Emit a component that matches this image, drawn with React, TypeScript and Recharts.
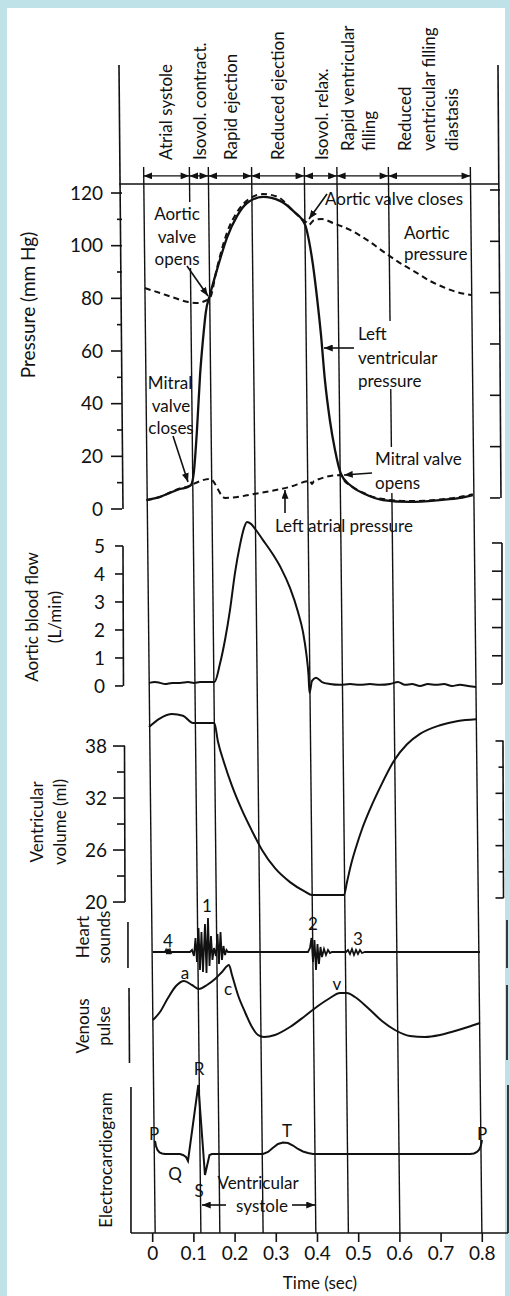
import React from "react";
import { ComposedChart, Line, XAxis, YAxis, ReferenceLine } from "recharts";

type Pt = [number, number];

// ---------------- data ----------------
const timeTicks = [0, 0.1, 0.2, 0.3, 0.4, 0.5, 0.6, 0.7, 0.8];
const pressureTicks = [0, 20, 40, 60, 80, 100, 120];
const pressureMinorTicks = [10, 30, 50, 70, 90, 110];
const flowTicks = [0, 1, 2, 3, 4, 5];
const volumeTicks = [20, 26, 32, 38];
const volumeMinorTicks = [23, 29, 35];

// phase boundaries (s), read at the time axis
const phaseBoundaries = [0.006, 0.117, 0.163, 0.268, 0.396, 0.475, 0.6, 0.799];
// the scanned figure drifts left towards its top by this much time
const SCAN_SKEW = 0.028;

// pressures (mm Hg)
const aorticPressure: Pt[] = [
  [-0.019, 83.9], [0.018, 82.0], [0.054, 80.1], [0.086, 78.6], [0.108, 78.2], [0.127, 79.0],
  [0.139, 80.1], [0.156, 91.5], [0.18, 104.8], [0.205, 112.8], [0.231, 117.4], [0.268, 119.6],
  [0.304, 118.5], [0.338, 113.6], [0.362, 110.1], [0.375, 108.6], [0.379, 107.9], [0.392, 109.8],
  [0.411, 110.1], [0.438, 108.6], [0.479, 106.0], [0.52, 102.2], [0.571, 96.5], [0.612, 92.3],
  [0.642, 89.6], [0.673, 86.6], [0.705, 84.3], [0.738, 82.4], [0.773, 81.3],
];
const lvPressure: Pt[] = [
  [-0.015, 3.4], [0.018, 4.6], [0.042, 6.1], [0.066, 7.6], [0.086, 8.4], [0.093, 9.1],
  [0.1, 14.1], [0.1075, 30.0], [0.115, 50.9], [0.122, 64.2], [0.129, 74.8], [0.139, 81.3],
  [0.156, 90.8], [0.18, 102.9], [0.205, 111.3], [0.229, 116.2], [0.268, 118.5], [0.309, 117.0],
  [0.341, 113.2], [0.37, 107.9], [0.379, 102.2], [0.389, 92.7], [0.399, 80.1], [0.4085, 66.1],
  [0.418, 49.0], [0.43, 33.8], [0.4425, 22.4], [0.457, 13.3], [0.479, 9.1], [0.515, 5.7],
  [0.559, 3.4], [0.6245, 2.7], [0.697, 3.4], [0.746, 4.2], [0.777, 5.3],
];
const laPressure: Pt[] = [
  [-0.015, 3.4], [0.018, 4.6], [0.042, 6.3], [0.066, 7.8], [0.086, 8.6], [0.093, 9.1],
  [0.139, 11.4], [0.1755, 4.2], [0.26, 6.1], [0.333, 8.4], [0.3818, 10.6], [0.3867, 9.5],
  [0.3915, 10.6], [0.457, 12.9], [0.466, 10.6], [0.479, 9.1], [0.497, 7.2], [0.515, 5.9],
  [0.537, 4.5], [0.559, 3.8], [0.59, 3.2], [0.6245, 3.0], [0.66, 3.1], [0.697, 3.6],
  [0.74, 4.4], [0.777, 5.6],
];

// aortic blood flow (L/min)
const aorticFlow: Pt[] = [
  [-0.009, 0.11], [0.006, 0.14], [0.018, 0.11], [0.03, 0.07], [0.047, 0.11], [0.066, 0.11],
  [0.086, 0.14], [0.1, 0.11], [0.115, 0.14], [0.129, 0.14], [0.15, 0.14], [0.1633, 0.79],
  [0.1755, 1.64], [0.1876, 2.71], [0.1998, 4.04], [0.2119, 5.04], [0.2216, 5.64], [0.2289, 5.86],
  [0.2386, 5.79], [0.2507, 5.57], [0.2678, 5.21], [0.2896, 4.75], [0.3114, 4.21], [0.3333, 3.5],
  [0.3527, 2.64], [0.3648, 1.93], [0.3733, 1.11], [0.3782, 0.39], [0.3806, -0.25], [0.3867, 0.18],
  [0.3964, 0.29], [0.411, 0.14], [0.43, 0.07], [0.4546, 0.04], [0.4789, 0.07], [0.5031, 0.04],
  [0.5274, 0.07], [0.5517, 0.04], [0.576, 0.07], [0.5954, 0.14], [0.6124, 0.04], [0.6294, 0.07],
  [0.6488, 0.0], [0.6682, 0.07], [0.6876, 0.04], [0.707, 0.07], [0.7264, 0.0], [0.7459, 0.04],
  [0.7653, 0.0], [0.7847, -0.04],
];

// ventricular volume (ml)
const ventricularVolume: Pt[] = [
  [-0.009, 40.2], [0.018, 41.2], [0.047, 41.7], [0.0735, 41.5], [0.0978, 40.65], [0.1496, 40.65],
  [0.1585, 38.5], [0.1731, 36.1], [0.1925, 33.4], [0.2168, 30.6], [0.2411, 28.2], [0.2654, 26.0],
  [0.2969, 23.9], [0.3333, 22.3], [0.3697, 21.2], [0.3867, 20.8], [0.4643, 20.8], [0.4716, 22.3],
  [0.4813, 24.3], [0.4934, 26.3], [0.508, 28.4], [0.5274, 30.7], [0.5517, 33.2], [0.5857, 36.3],
  [0.6173, 38.2], [0.6488, 39.4], [0.6973, 40.4], [0.741, 40.9], [0.7847, 41.1],
];

// heart sounds (arbitrary amplitude)
const heartSounds: Pt[] = [
  [0, 0], [0.0299, 0], [0.0323, 2], [0.0347, -2], [0.0371, 3], [0.0396, -2], [0.042, 2], [0.0444, -1],
  [0.0468, 0], [0.0905, 0], [0.0954, 2], [0.1002, -4], [0.1039, 14], [0.1075, -10], [0.1112, 24],
  [0.1148, -18], [0.1184, 20], [0.1221, -20], [0.1269, 28], [0.1306, -21], [0.1342, 34], [0.1379, -14],
  [0.1415, 16], [0.1451, -8], [0.1488, 4], [0.1536, -4], [0.1573, 18], [0.1609, -12], [0.1646, 20],
  [0.1682, -8], [0.1718, 6], [0.1755, -3], [0.1791, 2], [0.1828, 0], [0.3769, 0], [0.3818, 4],
  [0.3854, 14], [0.3891, -10], [0.3927, 12], [0.3964, -18], [0.4, 8], [0.4036, -12], [0.4073, 5],
  [0.4109, -5], [0.4158, 3], [0.4206, -3], [0.4255, 2], [0.4303, -1], [0.4352, 0], [0.4692, 0],
  [0.474, 2], [0.4789, -2], [0.4837, 3], [0.4886, -3], [0.4934, 2], [0.4983, -2], [0.5031, 2],
  [0.508, -1], [0.5153, 0], [0.7944, 0],
];

// venous pulse (arbitrary units)
const venousPulse: Pt[] = [
  [0.0007, 20], [0.0177, 28], [0.0371, 42], [0.0566, 54], [0.076, 59], [0.0954, 55], [0.1124, 51],
  [0.1318, 55], [0.1512, 61], [0.1682, 68], [0.1852, 75], [0.1925, 65], [0.207, 45], [0.224, 28],
  [0.241, 13], [0.2556, 5], [0.2701, 3], [0.2968, 5], [0.3333, 13], [0.3697, 24], [0.4012, 34],
  [0.4303, 42], [0.4546, 47], [0.4716, 47], [0.491, 43], [0.5226, 32], [0.5565, 19], [0.5881, 10],
  [0.6245, 4], [0.6609, 3], [0.6973, 5], [0.7337, 9], [0.7653, 13], [0.7944, 17],
];

// electrocardiogram (arbitrary units)
const ecg: Pt[] = [
  [0.0056, 13], [0.008, 8], [0.0116, 4], [0.0165, 1.5], [0.0226, 0.5], [0.0299, 0], [0.0663, 0],
  [0.0735, -1], [0.0808, -3], [0.0857, -7], [0.1107, 69], [0.1269, -21], [0.1379, -1], [0.1439, 0],
  [0.2678, 0], [0.28, 2], [0.2913, 6], [0.3041, 10], [0.3163, 11.5], [0.3284, 11], [0.3406, 8.5],
  [0.3527, 5], [0.3648, 2.5], [0.3769, 1], [0.3891, 0], [0.7701, 0], [0.7798, 0.5], [0.7871, 2],
  [0.7919, 4], [0.7956, 7], [0.798, 11], [0.7993, 14],
];

// ---------------- styling / layout ----------------
const INK = "#111";
const FONT = "Lato, 'Open Sans', 'DejaVu Sans', sans-serif";
const tickFont = { fontFamily: FONT, fontSize: 19, fill: INK };
const tickLineStyle = { stroke: INK, strokeWidth: 1.6 };
const noLabel = () => "";

const X_DOMAIN: [number, number] = [-0.0672, 0.843];
const P_L: [number, number] = [-274.94, 168.61];
const P_R: [number, number] = [-286.4, 168.7];
const F_L: [number, number] = [-19.54, 22.18];
const F_R: [number, number] = [-19.47, 21.95];
const V_L: [number, number] = [-18.19, 116.58];
const V_R: [number, number] = [-18.41, 115.5];
const HS: [number, number] = [-281, 887];
const VP: [number, number] = [-193, 975];
const EC: [number, number] = [-79, 1089];

const rows = (p: Pt[]) => p.map(([t, v]) => ({ t, v }));

const seg = (yAxisId: string, x1: number, y1: number, x2: number, y2: number, key: string, w = 1.6, extra: any = {}) => (
  <ReferenceLine
    key={key}
    xAxisId="t"
    yAxisId={yAxisId}
    segment={[{ x: x1, y: y1 }, { x: x2, y: y2 }]}
    ifOverflow="visible"
    stroke={INK}
    strokeWidth={w}
    {...extra}
  />
);

const PHASE_TOP = 129.9; // pressure units at top of phase lines
const ARROW_Y = 126.5;

const layer: React.CSSProperties = { position: "absolute", left: 0, top: 0 };

// one axis pair (left with labels, right inward ticks) drawn in its own layer
function AxisLayer({
  domL, domR, ticks, leftAt, rightAt, sizeL, sizeR, marginL = 8, labels = true,
}: {
  domL: [number, number]; domR: [number, number]; ticks: number[]; leftAt: number; rightAt: number;
  sizeL: number; sizeR: number; marginL?: number; labels?: boolean;
}) {
  const common = { type: "number" as const, allowDataOverflow: true, interval: 0 as const, axisLine: false, tickLine: tickLineStyle, ticks };
  const anchor = rows(ticks.map((v) => [0, v] as Pt));
  return (
    <div style={layer}>
      <ComposedChart width={510} height={1296} margin={{ top: 65, right: 0, bottom: 63, left: 0 }}>
        <XAxis xAxisId="t" type="number" dataKey="t" domain={X_DOMAIN} allowDataOverflow hide />
        <YAxis yAxisId="L" {...common} orientation="left" width={leftAt} domain={domL} tickSize={sizeL} tickMargin={marginL}
          tick={tickFont} tickFormatter={labels ? (v: number) => String(v) : noLabel} />
        <YAxis yAxisId="R" {...common} orientation="right" width={510 - rightAt} domain={domR} tickSize={-sizeR} tickFormatter={noLabel} />
        <Line xAxisId="t" yAxisId="L" data={anchor} dataKey="v" stroke="none" dot={false} isAnimationActive={false} />
        <Line xAxisId="t" yAxisId="R" data={anchor} dataKey="v" stroke="none" dot={false} isAnimationActive={false} />
      </ComposedChart>
    </div>
  );
}

function MainChart() {
  const hid = { type: "number" as const, hide: true, allowDataOverflow: true };
  return (
    <div style={layer}>
      <ComposedChart width={510} height={1296} margin={{ top: 65, right: 10, bottom: 0, left: 125 }}>
        <XAxis
          xAxisId="t"
          type="number"
          dataKey="t"
          domain={X_DOMAIN}
          allowDataOverflow
          ticks={timeTicks}
          interval={0}
          height={63}
          axisLine={false}
          tickLine={tickLineStyle}
          tickSize={9}
          tickMargin={5}
          tick={tickFont}
          tickFormatter={(v: number) => String(v)}
        />
        <YAxis yAxisId="presL" {...hid} domain={P_L} />
        <YAxis yAxisId="presR" {...hid} domain={P_R} />
        <YAxis yAxisId="flowL" {...hid} domain={F_L} />
        <YAxis yAxisId="flowR" {...hid} domain={F_R} />
        <YAxis yAxisId="volL" {...hid} domain={V_L} />
        <YAxis yAxisId="volR" {...hid} domain={V_R} />
        <YAxis yAxisId="hs" {...hid} domain={HS} />
        <YAxis yAxisId="vp" {...hid} domain={VP} />
        <YAxis yAxisId="ecg" {...hid} domain={EC} />

        {/* phase boundary lines */}
        {phaseBoundaries.map((b, i) => seg("presL", b - SCAN_SKEW, PHASE_TOP, b, P_L[0], `ph${i}`, 1.4))}
        {/* phase arrows */}
        {phaseBoundaries.slice(0, -1).map((b, i) =>
          seg("presL", b - SCAN_SKEW, ARROW_Y, phaseBoundaries[i + 1] - SCAN_SKEW, ARROW_Y, `pa${i}`, 1.4, {
            markerStart: "url(#ah)",
            markerEnd: "url(#ah)",
          })
        )}

        {/* frame */}
        {seg("presL", -0.0818, P_L[1], -0.0721, 0, "fpL")}
        {seg("presL", -0.0818, 123.4, 0.8381, 123.4, "ftop")}
        {seg("presR", 0.8381, P_R[1], 0.8454, 0, "fpR")}
        {seg("flowL", -0.0721, 5, -0.0709, 0, "ffL")}
        {seg("flowR", 0.8478, 5, 0.8478, 0, "ffR")}
        {seg("volL", -0.0684, 38, -0.0672, 20, "fvL")}
        {seg("volR", 0.8502, 38, 0.8515, 20, "fvR")}
        {seg("hs", -0.06, 30, -0.06, -16, "fhL")}
        {seg("hs", 0.86, 32, 0.86, -16, "fhR")}
        {seg("vp", -0.0575, 52, -0.0563, -23, "fvpL")}
        {seg("vp", 0.86, 55, 0.86, -20, "fvpR")}
        {seg("ecg", -0.0527, 67, -0.0527, -79, "feL")}
        {seg("ecg", 0.8624, 69, 0.8624, -79, "feR")}
        {seg("ecg", -0.0527, -79, 0.8624, -79, "fx")}

        {/* series */}
        <Line xAxisId="t" yAxisId="presL" data={rows(aorticPressure)} dataKey="v" type="monotone" dot={false} stroke={INK} strokeWidth={2} strokeDasharray="6 4" isAnimationActive={false} />
        <Line xAxisId="t" yAxisId="presL" data={rows(laPressure)} dataKey="v" type="monotone" dot={false} stroke={INK} strokeWidth={2} strokeDasharray="6 4" isAnimationActive={false} />
        <Line xAxisId="t" yAxisId="presL" data={rows(lvPressure)} dataKey="v" type="monotone" dot={false} stroke={INK} strokeWidth={2.3} isAnimationActive={false} />
        <Line xAxisId="t" yAxisId="flowL" data={rows(aorticFlow)} dataKey="v" type="monotone" dot={false} stroke={INK} strokeWidth={2} isAnimationActive={false} />
        <Line xAxisId="t" yAxisId="volL" data={rows(ventricularVolume)} dataKey="v" type="monotone" dot={false} stroke={INK} strokeWidth={2} isAnimationActive={false} />
        <Line xAxisId="t" yAxisId="hs" data={rows(heartSounds)} dataKey="v" type="linear" dot={false} stroke={INK} strokeWidth={1.8} isAnimationActive={false} />
        <Line xAxisId="t" yAxisId="vp" data={rows(venousPulse)} dataKey="v" type="monotone" dot={false} stroke={INK} strokeWidth={2} isAnimationActive={false} />
        <Line xAxisId="t" yAxisId="ecg" data={rows(ecg)} dataKey="v" type="linear" dot={false} stroke={INK} strokeWidth={2} isAnimationActive={false} />
      </ComposedChart>
    </div>
  );
}

// ---------------- annotations ----------------
const txt = { fontFamily: FONT, fontSize: 17, fill: INK } as const;

function VT({ x, y, s, anchor = "start", size }: { x: number; y: number; s: string; anchor?: "start" | "middle" | "end"; size?: number }) {
  return (
    <text x={x} y={y} transform={`rotate(-90 ${x} ${y})`} textAnchor={anchor} dominantBaseline="central" {...txt} fontSize={size ?? 17}>
      {s}
    </text>
  );
}
function HT({ x, y, s, anchor = "start", size }: { x: number; y: number; s: string; anchor?: "start" | "middle" | "end"; size?: number }) {
  return (
    <text x={x} y={y} textAnchor={anchor} dominantBaseline="central" {...txt} fontSize={size ?? 17}>
      {s}
    </text>
  );
}
function Arrow({ x1, y1, x2, y2 }: { x1: number; y1: number; x2: number; y2: number }) {
  return <line x1={x1} y1={y1} x2={x2} y2={y2} stroke={INK} strokeWidth={1.6} markerEnd="url(#ah)" />;
}

function Overlay() {
  return (
    <svg width={510} height={1296} style={{ ...layer, pointerEvents: "none" }}>
      <defs>
        <marker id="ah" viewBox="0 0 10 8" refX="10" refY="4" markerWidth="9" markerHeight="7" markerUnits="userSpaceOnUse" orient="auto-start-reverse">
          <path d="M0,0 L10,4 L0,8 z" fill={INK} />
        </marker>
      </defs>
      {/* phase names */}
      <VT x={165} y={160} s="Atrial systole" />
      <VT x={199} y={160} s="Isovol. contract." />
      <VT x={230} y={160} s="Rapid ejection" />
      <VT x={277} y={160} s="Reduced ejection" />
      <VT x={321} y={160} s="Isovol. relax." />
      <VT x={347} y={151} s="Rapid ventricular" />
      <VT x={368} y={151} s="filling" />
      <VT x={404} y={151} s="Reduced" />
      <VT x={428} y={151} s="ventricular filling" />
      <VT x={451} y={151} s="diastasis" />

      {/* axis titles */}
      <VT x={27} y={305} s="Pressure (mm Hg)" anchor="middle" size={19} />
      <VT x={31} y={617} s="Aortic blood flow" anchor="middle" />
      <VT x={54} y={617} s="(L/min)" anchor="middle" />
      <VT x={36} y={822} s="Ventricular" anchor="middle" />
      <VT x={59} y={822} s="volume (ml)" anchor="middle" />
      <VT x={82} y={937} s="Heart" anchor="middle" />
      <VT x={103} y={937} s="sounds" anchor="middle" />
      <VT x={82} y={1026} s="Venous" anchor="middle" />
      <VT x={103} y={1026} s="pulse" anchor="middle" />
      <VT x={105} y={1160} s="Electrocardiogram" anchor="middle" />

      {/* pressure panel labels */}
      <rect x={150} y={202} width={55} height={66} fill="#fff" />
      <HT x={177} y={213} s="Aortic" anchor="middle" />
      <HT x={177} y={236} s="valve" anchor="middle" />
      <HT x={177} y={258} s="opens" anchor="middle" />
      <Arrow x1={187} y1={266} x2={208} y2={296} />
      <HT x={325} y={198} s="Aortic valve closes" />
      <Arrow x1={327} y1={194} x2={309} y2={219} />
      <HT x={404} y={232} s="Aortic" />
      <HT x={404} y={253} s="pressure" />
      <rect x={356} y={321} width={72} height={68} fill="#fff" />
      <HT x={358} y={333} s="Left" />
      <HT x={358} y={357} s="ventricular" />
      <HT x={358} y={380} s="pressure" />
      <Arrow x1={354} y1={348} x2={324} y2={348} />
      <HT x={170} y={382} s="Mitral" anchor="middle" />
      <HT x={171} y={405} s="valve" anchor="middle" />
      <HT x={171} y={427} s="closes" anchor="middle" />
      <Arrow x1={173} y1={436} x2={188} y2={482} />
      <rect x={373} y={447} width={97} height={46} fill="#fff" />
      <HT x={375} y={458} s="Mitral valve" />
      <HT x={375} y={482} s="opens" />
      <Arrow x1={372} y1={473} x2={344} y2={475} />
      <HT x={275} y={525} s="Left atrial pressure" />
      <Arrow x1={285} y1={513} x2={285} y2={490} />

      {/* heart sounds, venous pulse, ECG labels */}
      <HT x={168} y={940} s="4" anchor="middle" />
      <HT x={207} y={905} s="1" anchor="middle" />
      <HT x={313} y={923} s="2" anchor="middle" />
      <HT x={358} y={938} s="3" anchor="middle" />
      <HT x={185} y={972} s="a" anchor="middle" />
      <HT x={228} y={988} s="c" anchor="middle" />
      <HT x={337} y={983} s="v" anchor="middle" />
      <HT x={199} y={1068} s="R" anchor="middle" />
      <HT x={154} y={1133} s="P" anchor="middle" />
      <HT x={175} y={1173} s="Q" anchor="middle" />
      <HT x={199} y={1190} s="S" anchor="middle" />
      <HT x={287} y={1130} s="T" anchor="middle" />
      <HT x={482} y={1133} s="P" anchor="middle" />
      <HT x={258} y={1182} s="Ventricular" anchor="middle" />
      <HT x={262} y={1205} s="systole" anchor="middle" />
      <Arrow x1={226} y1={1205} x2={202} y2={1205} />
      <Arrow x1={292} y1={1205} x2={315} y2={1205} />
      <HT x={320} y={1282} s="Time (sec)" anchor="middle" />
    </svg>
  );
}

export default function App() {
  return (
    <div style={{ position: "relative", width: 510, height: 1296, background: "#bfe2e8", overflow: "hidden" }}>
      <style>{"body{margin:0}"}</style>
      <div style={{ position: "absolute", left: 7, top: 8, width: 498, height: 1288, background: "#fff" }} />
      <MainChart />
      <AxisLayer domL={P_L} domR={P_R} ticks={pressureTicks} leftAt={122} rightAt={500} sizeL={11} sizeR={10} marginL={8} />
      <AxisLayer domL={P_L} domR={P_R} ticks={pressureMinorTicks} leftAt={122} rightAt={500} sizeL={5} sizeR={0} labels={false} />
      <AxisLayer domL={F_L} domR={F_R} ticks={flowTicks} leftAt={123} rightAt={502} sizeL={8} sizeR={10} marginL={10} />
      <AxisLayer domL={V_L} domR={V_R} ticks={volumeTicks} leftAt={125} rightAt={503.5} sizeL={12} sizeR={8} marginL={6} />
      <AxisLayer domL={V_L} domR={V_R} ticks={volumeMinorTicks} leftAt={125} rightAt={503.5} sizeL={8} sizeR={5} labels={false} />
      <Overlay />
    </div>
  );
}
